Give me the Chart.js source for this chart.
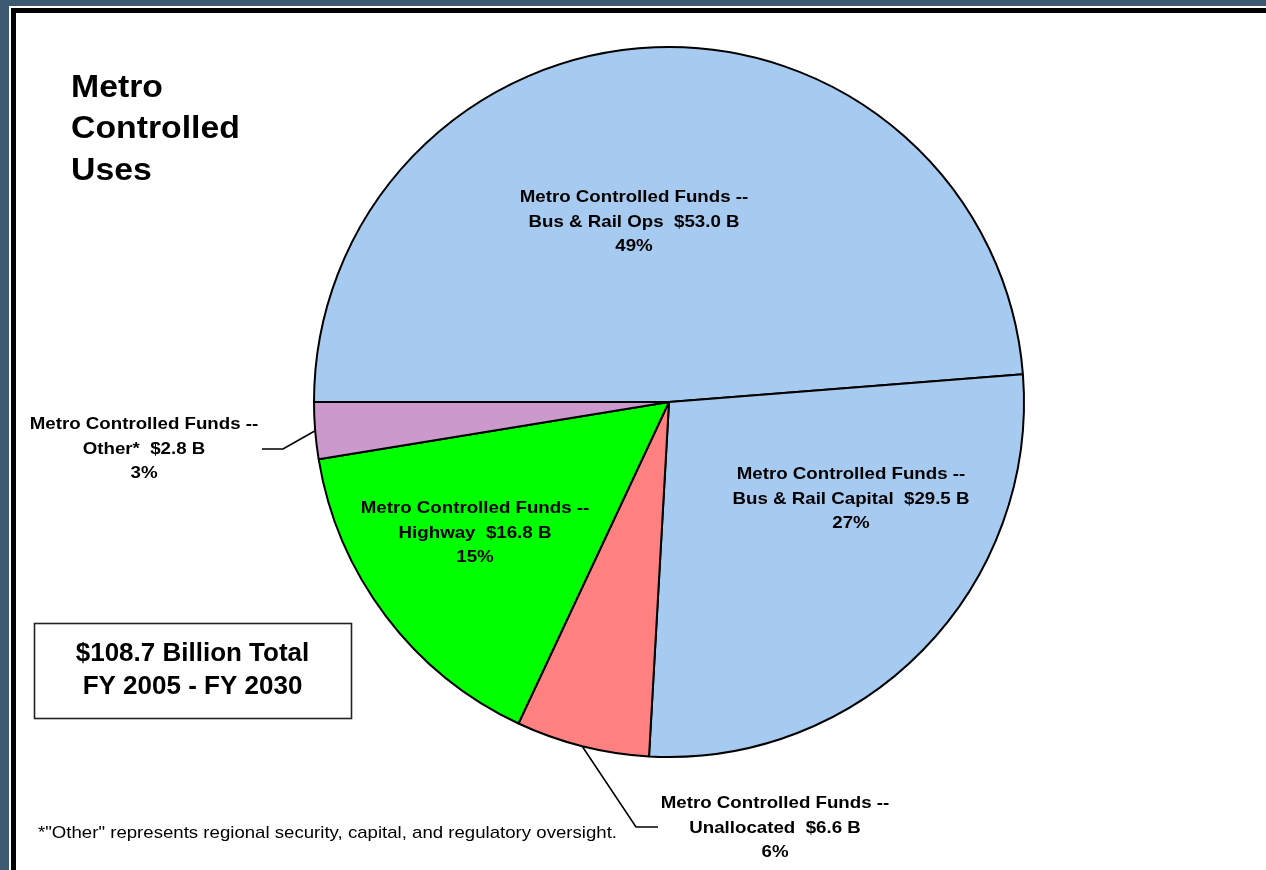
<!DOCTYPE html>
<html>
<head>
<meta charset="utf-8">
<script src="https://cdn.jsdelivr.net/npm/chart.js@4.4.1/dist/chart.umd.min.js"></script>
<style>
  html, body { margin: 0; padding: 0; }
  body { width: 1266px; height: 870px; overflow: hidden; background: #3d5a73; position: relative; }
  #hl { position: absolute; left: 9px; top: 6px; right: -20px; bottom: -20px; background: #ffffff; }
  #bk { position: absolute; left: 11px; top: 8px; right: -20px; bottom: -20px; background: #000000; }
  #pn { position: absolute; left: 16px; top: 13px; right: -20px; bottom: -20px; background: #ffffff; }
  #c { position: absolute; left: 0; top: 0; }
</style>
</head>
<body>
<div id="hl"></div><div id="bk"></div><div id="pn"></div>
<canvas id="c" width="1266" height="870"></canvas>
<script>
// ---- data ----
const categories = ["Bus & Rail Ops", "Bus & Rail Capital", "Unallocated", "Highway", "Other*"];
const valuesBillions = [53.0, 29.5, 6.6, 16.8, 2.8];
const sliceColors = ["#a6caf0", "#a6caf0", "#ff8080", "#00ff00", "#cc99cc"];
const labelPrefix = "Metro Controlled Funds --";
const titleLines = ["Metro", "Controlled", "Uses"];
const totalLines = ["$108.7 Billion Total", "FY 2005 - FY 2030"];
const footnote = "*\"Other\" represents regional security, capital, and regulatory oversight.";

// ---- label layout (pixel offsets from pie centre) ----
const labelLayout = [
  { dx: -35, dy: -180 },
  { dx: 182, dy: 97 },
  { dx: 106, dy: 426, leader: [[-33, 425], [-11, 425]] },
  { dx: -194, dy: 131 },
  { dx: -525, dy: 47, leader: [[-386, 47], [-407, 47]] }
];

const FONT = "'Liberation Sans', Arial, Helvetica, sans-serif";

function drawLines(ctx, lines, x, yMid, font, lh, sx, align) {
  ctx.save();
  ctx.font = font;
  ctx.fillStyle = "#000";
  ctx.textBaseline = "middle";
  ctx.textAlign = align;
  const n = lines.length;
  lines.forEach((t, i) => {
    const y = yMid + (i - (n - 1) / 2) * lh;
    ctx.save();
    ctx.translate(x, y);
    ctx.scale(sx, 1);
    ctx.fillText(t, 0, 0);
    ctx.restore();
  });
  ctx.restore();
}

const labelPlugin = {
  id: "sliceLabels",
  afterDatasetsDraw(chart) {
    const ctx = chart.ctx;
    const meta = chart.getDatasetMeta(0);
    const data = chart.data.datasets[0].data;
    const total = data.reduce((a, b) => a + b, 0);
    meta.data.forEach((arc, i) => {
      const p = arc.getProps(["x", "y", "startAngle", "endAngle", "outerRadius"], true);
      const L = labelLayout[i];
      const pct = Math.round(data[i] / total * 100);
      const lines = [labelPrefix, categories[i] + "  $" + data[i].toFixed(1) + " B", pct + "%"];
      if (L.leader) {
        const mid = (p.startAngle + p.endAngle) / 2;
        ctx.save();
        ctx.strokeStyle = "#000";
        ctx.lineWidth = 1.6;
        ctx.beginPath();
        ctx.moveTo(p.x + Math.cos(mid) * p.outerRadius, p.y + Math.sin(mid) * p.outerRadius);
        L.leader.forEach(pt => ctx.lineTo(p.x + pt[0], p.y + pt[1]));
        ctx.stroke();
        ctx.restore();
      }
      drawLines(ctx, lines, p.x + L.dx, p.y + L.dy, "bold 17px " + FONT, 24.5, 1.1, "center");
    });
  },
  afterDraw(chart) {
    const ctx = chart.ctx;
    // title
    drawLines(ctx, titleLines, 71, 129.5, "bold 31px " + FONT, 41.5, 1.09, "left");
    // total box
    ctx.save();
    ctx.strokeStyle = "#222";
    ctx.lineWidth = 1.6;
    ctx.strokeRect(34.5, 623.5, 317, 95);
    ctx.restore();
    drawLines(ctx, totalLines, 192.5, 670.5, "bold 25px " + FONT, 33, 1.04, "center");
    // footnote
    ctx.save();
    ctx.font = "17px " + FONT;
    const w = ctx.measureText(footnote).width;
    ctx.restore();
    drawLines(ctx, [footnote], 38, 833, "17px " + FONT, 0, 579 / w, "left");
  }
};

new Chart(document.getElementById("c"), {
  type: "pie",
  data: {
    labels: categories,
    datasets: [{
      data: valuesBillions,
      backgroundColor: sliceColors,
      borderColor: "#000000",
      borderWidth: 2,
      hoverOffset: 0
    }]
  },
  options: {
    responsive: false,
    animation: false,
    devicePixelRatio: 1,
    rotation: 270,
    layout: { padding: { left: 313, top: 46, right: 241, bottom: 112 } },
    plugins: {
      legend: { display: false },
      tooltip: { enabled: false },
      title: { display: false }
    }
  },
  plugins: [labelPlugin]
});
</script>
</body>
</html>
